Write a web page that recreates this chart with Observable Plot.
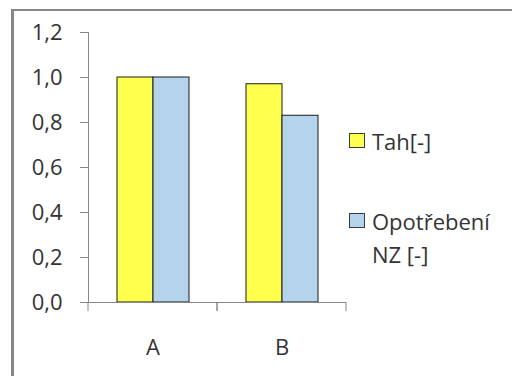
<!DOCTYPE html>
<html>
<head>
<meta charset="utf-8">
<script src="https://cdn.jsdelivr.net/npm/d3@7"></script>
<script src="https://cdn.jsdelivr.net/npm/@observablehq/plot@0.6"></script>
<style>
  body { margin: 0; background: #fff; }
  #chart { position: relative; width: 512px; height: 376px; overflow: hidden;
           font-family: "Open Sans", sans-serif; color: #333; }
  #chart .frame { position: absolute; left: 11px; top: 9px; right: -10px; bottom: -10px;
                  border-top: 2px solid #878787; border-left: 3px solid #878787; }
  #chart svg { position: absolute; left: 0; top: 0; }
  .legend { position: absolute; left: 349px; top: 125px; font-size: 22px; }
  .legend .item { display: flex; align-items: flex-start; }
  .legend .item + .item { margin-top: 47px; }
  .legend .swatch { width: 14px; height: 13px; border: 1px solid #3a3a3a; margin-top: 8px; margin-right: 7px; flex: none; }
  .legend .label { width: 130px; line-height: 33px; }
</style>
</head>
<body>
<div id="chart"><div class="frame"></div></div>
<script>
// Categories on the x axis
const categories = ["A", "B"];
// Series names and their values per category
const seriesNames = ["Tah[-]", "Opotřebení NZ [-]"];
const tahValues = [1.0, 0.97];
const opotrebeniValues = [1.0, 0.83];
const seriesColors = ["#ffff4d", "#b4d4ec"];
// Y axis ticks
const yTicks = [0, 0.2, 0.4, 0.6, 0.8, 1.0, 1.2];

const rows = categories.flatMap((category, i) => [
  {category, series: seriesNames[0], value: tahValues[i]},
  {category, series: seriesNames[1], value: opotrebeniValues[i]}
]);

// Short tick marks at the edges of each category band, below the baseline
function categoryBoundaryTicks(index, scales) {
  const [x0, x1] = scales.x.range();
  const y0 = scales.y(0);
  const g = d3.create("svg:g").attr("stroke", "#868686");
  for (const x of [x0, x1]) {
    g.append("line").attr("x1", x).attr("x2", x).attr("y1", y0).attr("y2", y0 + 9);
  }
  return g.node();
}

const plot = Plot.plot({
  width: 512,
  height: 376,
  marginLeft: 87,
  marginRight: 166,
  marginTop: 32,
  marginBottom: 74,
  style: {fontFamily: "Open Sans, sans-serif", fontSize: "22px", color: "#333", background: "transparent"},
  fx: {domain: categories, padding: 0, axis: null, label: null},
  x: {domain: seriesNames, paddingInner: 0, paddingOuter: 0.765, axis: null, label: null},
  y: {domain: [0, 1.2], axis: null, label: null},
  color: {domain: seriesNames, range: seriesColors},
  marks: [
    Plot.barY(rows, {fx: "category", x: "series", y: "value", fill: "series", stroke: "#1a1a1a", strokeWidth: 1}),
    Plot.ruleY([0], {stroke: "#868686"}),
    Plot.frame({anchor: "left", facetAnchor: "left", stroke: "#868686"}),
    Plot.axisY({
      ticks: yTicks,
      tickFormat: d => d.toFixed(1).replace(".", ","),
      tickSize: 8,
      tickPadding: 18,
      stroke: "#868686",
      fill: "#333",
      label: null
    }),
    Plot.axisFx({anchor: "bottom", tickSize: 0, tickPadding: 37, fill: "#333", label: null}),
    categoryBoundaryTicks
  ]
});

const chart = document.getElementById("chart");
chart.appendChild(plot);

// Legend on the right
const legend = document.createElement("div");
legend.className = "legend";
seriesNames.forEach((name, i) => {
  const item = document.createElement("div");
  item.className = "item";
  const sw = document.createElement("div");
  sw.className = "swatch";
  sw.style.background = seriesColors[i];
  const label = document.createElement("div");
  label.className = "label";
  label.textContent = name;
  item.appendChild(sw);
  item.appendChild(label);
  legend.appendChild(item);
});
chart.appendChild(legend);
</script>
</body>
</html>
